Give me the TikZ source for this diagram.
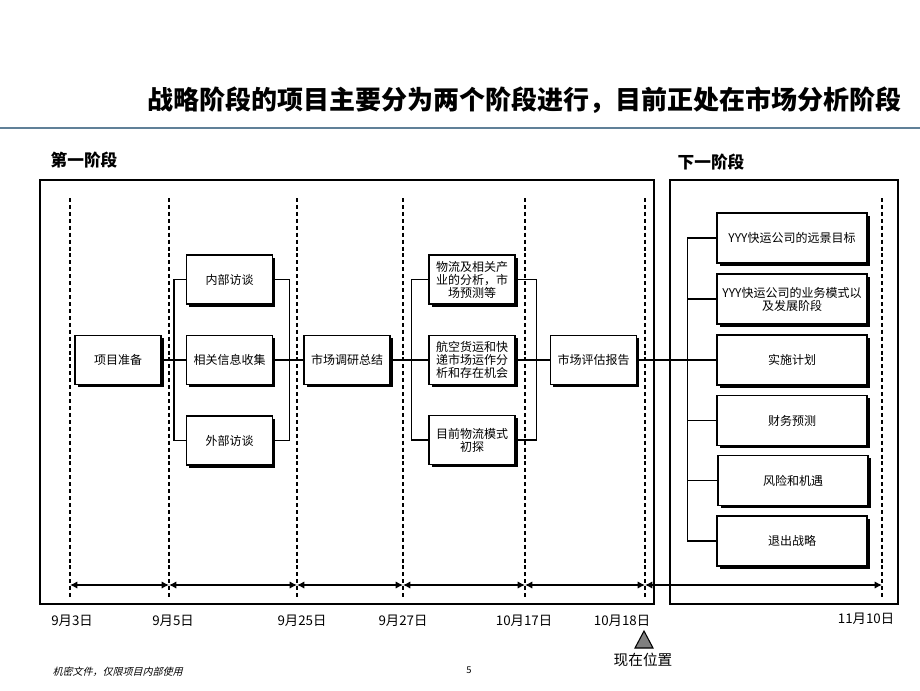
\documentclass[tikz,border=0pt]{standalone}
\usepackage{fontspec}
\newfontfamily\cjk{Noto Sans CJK SC}
\newfontfamily\cjkslant[FakeSlant=0.25]{Noto Sans CJK SC}
\usetikzlibrary{arrows.meta,shadows}
\definecolor{rulecol}{RGB}{96,128,152}
\tikzset{
  stagebox/.style={draw, line width=1pt, fill=white, minimum width=64.5pt, minimum height=36.75pt,
    inner sep=1pt, align=center, font=\cjk\fontsize{9}{9.8}\selectfont,
    drop shadow={shadow xshift=2.2pt, shadow yshift=-2.2pt, opacity=1, fill=black}},
  widebox/.style={stagebox, minimum width=112.5pt, minimum height=37.5pt},
  datelabel/.style={font=\cjk\fontsize{10}{11}\selectfont},
  guideline/.style={dash pattern=on 3pt off 2.2pt, line width=0.8pt},
  spanarrow/.style={{Latex[length=5.5pt,width=5.5pt]}-{Latex[length=5.5pt,width=5.5pt]}, line width=0.9pt},
  link/.style={line width=1pt}
}
\begin{document}
\begin{tikzpicture}[x=0.75pt,y=0.75pt,yscale=-1,xscale=1]
\useasboundingbox (0,0) rectangle (920,690);

% Title
\node [anchor=east, font=\cjk\bfseries\fontsize{19.5}{20}\selectfont] (title) at (906,100) {战略阶段的项目主要分为两个阶段进行，目前正处在市场分析阶段};
%Shape: Line
\draw [color=rulecol, line width=2pt] (0,128) -- (920,128);

% Text Node
\node [font=\cjk\bfseries\fontsize{12.5}{13}\selectfont] (phaseone) at (84,160) {第一阶段};
% Text Node
\node [font=\cjk\bfseries\fontsize{12.5}{13}\selectfont] (phasenext) at (711,162) {下一阶段};

%Shape: Rectangle
\draw [line width=1.1pt] (40,180) rectangle (654,604);
%Shape: Rectangle
\draw [line width=1.1pt] (670,180) rectangle (898,604);

% dashed date guides
\foreach \gx in {70,169,297,403,525,645,882}
  \draw [guideline] (\gx,198) -- (\gx,600);

% date spans
\foreach \ga/\gb in {70/169,169/297,297/403,403/525,525/645,645/882}
  \draw [spanarrow] (\ga,585) -- (\gb,585);

% Boxes, first phase
\node [stagebox] (prep) at (118,360) {项目准备};
\node [stagebox] (inner) at (229.5,279.5) {内部访谈};
\node [stagebox] (info) at (229.5,360) {相关信息收集};
\node [stagebox] (outer) at (229.5,440.5) {外部访谈};
\node [stagebox] (survey) at (347,360) {市场调研总结};
\node [stagebox] (logis) at (472,279.5) {物流及相关产\\业的分析，市\\场预测等};
\node [stagebox] (air) at (472,360) {航空货运和快\\递市场运作分\\析和存在机会};
\node [stagebox] (mode) at (472,440) {目前物流模式\\初探};
\node [stagebox] (report) at (593.5,360) {市场评估报告};

% Boxes, next phase
\node [widebox] (vision) at (792,238) {YYY快运公司的远景目标};
\node [widebox] (business) at (792,299) {YYY快运公司的业务模式以\\及发展阶段};
\node [widebox] (plan) at (792,360) {实施计划};
\node [widebox] (finance) at (792,420.5) {财务预测};
\node [widebox] (risk) at (793,480.5) {风险和机遇};
\node [widebox] (exit) at (792,541) {退出战略};

% main flow
\draw [link] (prep) -- (info) -- (survey) -- (air) -- (report) -- (plan);
% brackets
\draw [link] (inner.west) -- ++(-12,0) |- (outer.west);
\draw [link] (inner.east) -- ++(16,0) |- (outer.east);
\draw [link] (logis.west) -- ++(-17,0) |- (mode.west);
\draw [link] (logis.east) -- ++(21,0) |- (mode.east);
\draw [link] (vision.west) -- ++(-29,0) |- (exit.west);
\foreach \bx in {business,finance,risk}
  \draw [link] (\bx.west) -- ++(-29,0);

% Text Node
\node [datelabel] (d1) at (72,621) {9月3日};
\node [datelabel] (d2) at (173,621) {9月5日};
\node [datelabel] (d3) at (302,621) {9月25日};
\node [datelabel] (d4) at (403,621) {9月27日};
\node [datelabel] (d5) at (524,621) {10月17日};
\node [datelabel] (d6) at (622,621) {10月18日};
\node [datelabel] (d7) at (866,619) {11月10日};

%Shape: Triangle
\draw [fill=gray, line width=0.8pt] (644,631) -- (653,648) -- (635,648) -- cycle;
% Text Node
\node [font=\cjk\fontsize{11}{12}\selectfont] (now) at (643,660) {现在位置};

% footer
\node [anchor=west, font=\cjkslant\fontsize{7.5}{8}\selectfont] (note) at (48,672) {机密文件，仅限项目内部使用};
\node [font=\cjk\fontsize{7}{8}\selectfont] (page) at (469,670) {5};
\end{tikzpicture}
\end{document}
